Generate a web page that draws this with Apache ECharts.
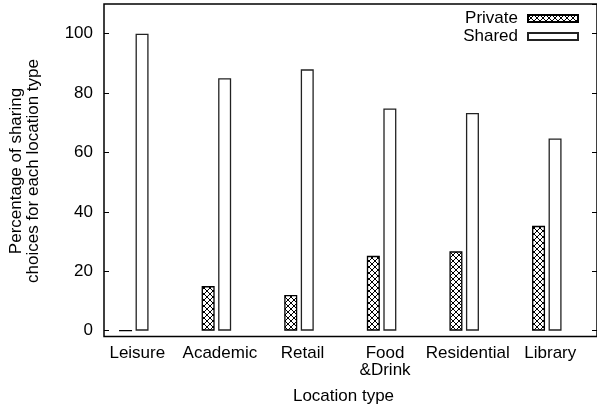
<!DOCTYPE html>
<html>
<head>
<meta charset="utf-8">
<script src="https://cdn.jsdelivr.net/npm/echarts@6/dist/echarts.min.js"></script>
<style>
  html, body { margin: 0; padding: 0; background: #fff; }
  #chart { width: 597px; height: 408px; }
</style>
</head>
<body>
<div id="chart"></div>
<script>
// data
const categories = ['Leisure', 'Academic', 'Retail', 'Food\n&Drink', 'Residential', 'Library'];
const privateVals = [0, 15, 12, 25.2, 26.7, 35.3];
const sharedVals = [100, 85, 88, 74.8, 73.3, 64.7];
const yMin = -2;
const yMax = 110;

const font = 'Liberation Sans';

// cross hatch fill for the Private bars
function makeHatch() {
    const c = document.createElement('canvas');
    c.width = 6;
    c.height = 6;
    const ctx = c.getContext('2d');
    ctx.fillStyle = '#fff';
    ctx.fillRect(0, 0, 6, 6);
    ctx.strokeStyle = '#000';
    ctx.lineWidth = 1;
    ctx.beginPath();
    ctx.moveTo(0, 0); ctx.lineTo(6, 6);
    ctx.moveTo(6, 0); ctx.lineTo(0, 6);
    ctx.stroke();
    return c;
}

const chart = echarts.init(document.getElementById('chart'));

const hideNonTicks = function (v) {
    return (v % 20 === 0) ? String(v) : '';
};

chart.setOption({
    animation: false,
    textStyle: { fontFamily: font },
    grid: [
        // frame + y axes
        { left: 104, right: -1, top: 4, bottom: 71.4, show: true, borderColor: '#000', borderWidth: 1.5, backgroundColor: 'transparent' },
        // bars
        { left: 92.5, right: 8.9, top: 4, bottom: 71.4 }
    ],
    legend: {
        orient: 'vertical',
        right: 18,
        top: 10,
        padding: 0,
        align: 'right',
        icon: 'rect',
        itemWidth: 50,
        itemHeight: 7,
        itemGap: 1,
        textStyle: { fontFamily: font, fontSize: 17, color: '#000', padding: [0, 5, 0, 0] },
        data: ['Private', 'Shared']
    },
    xAxis: [
        { gridIndex: 0, type: 'value', show: false, min: 0, max: 1 },
        {
            gridIndex: 1,
            type: 'category',
            data: categories,
            axisLine: { show: false },
            axisTick: { show: false },
            axisLabel: {
                interval: 0,
                margin: 8,
                color: '#000',
                fontFamily: font,
                fontSize: 17,
                lineHeight: 17,
                padding: [0, 0, 0, 7]
            }
        }
    ],
    yAxis: [
        {
            gridIndex: 0,
            type: 'value',
            position: 'left',
            min: yMin,
            max: yMax,
            splitNumber: 6,
            splitLine: { show: false },
            axisLine: { show: false },
            axisTick: { show: true, inside: true, length: 5, lineStyle: { color: '#000', width: 1 } },
            axisLabel: {
                margin: 11,
                color: '#000',
                fontFamily: font,
                fontSize: 17,
                showMinLabel: false,
                showMaxLabel: false,
                formatter: hideNonTicks
            }
        },
        {
            gridIndex: 0,
            type: 'value',
            position: 'right',
            min: yMin,
            max: yMax,
            splitNumber: 6,
            splitLine: { show: false },
            axisLine: { show: false },
            axisTick: { show: true, inside: true, length: 5, lineStyle: { color: '#000', width: 1 } },
            axisLabel: { show: false }
        },
        { gridIndex: 1, type: 'value', show: false, min: yMin, max: yMax }
    ],
    graphic: [
        {
            type: 'text',
            x: 343.5,
            y: 396,
            style: { text: 'Location type', font: '17px "Liberation Sans"', fill: '#000', align: 'center', verticalAlign: 'middle' }
        },
        {
            type: 'text',
            x: 25,
            y: 171,
            rotation: Math.PI / 2,
            style: {
                text: 'Percentage of sharing\nchoices for each location type',
                font: '17px "Liberation Sans"',
                lineHeight: 17,
                fill: '#000',
                align: 'center',
                verticalAlign: 'middle'
            }
        }
    ],
    series: [
        {
            name: 'Private',
            type: 'bar',
            xAxisIndex: 1,
            yAxisIndex: 2,
            barWidth: 13,
            barGap: '27%',
            data: privateVals,
            itemStyle: {
                color: { image: makeHatch(), repeat: 'repeat' },
                borderColor: '#000',
                borderWidth: 1.3
            }
        },
        {
            name: 'Shared',
            type: 'bar',
            xAxisIndex: 1,
            yAxisIndex: 2,
            barWidth: 13,
            data: sharedVals,
            itemStyle: {
                color: '#fff',
                borderColor: '#222',
                borderWidth: 1.3
            }
        }
    ]
});
</script>
</body>
</html>
